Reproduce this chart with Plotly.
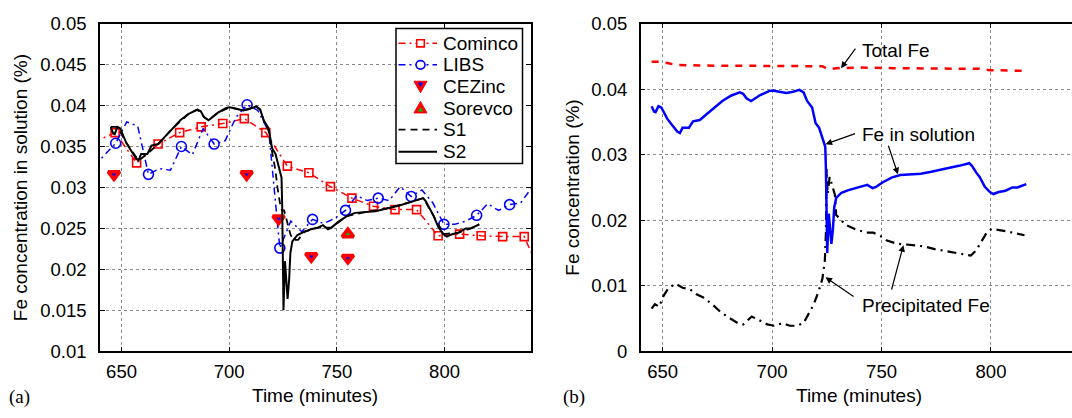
import plotly.graph_objects as go

# ---------------- panel (a): Fe concentration in solution ----------------
cominco_t = [637, 647, 657, 667, 677, 687, 697, 707, 717, 727, 737, 747, 757,
             767, 777, 787, 797, 807, 817, 827, 837, 847]
cominco_fe = [0.0355, 0.0367, 0.0330, 0.0353, 0.0367, 0.0374, 0.0378, 0.0384,
              0.0367, 0.0326, 0.0318, 0.0301, 0.0287, 0.0277, 0.0273, 0.0273,
              0.0241, 0.0243, 0.0241, 0.0240, 0.0240, 0.0180]

libs_t = [637.2, 642.2, 647.3, 652.4, 657.5, 662.5, 667.6, 672.7, 677.8, 682.9,
          687.9, 693.0, 698.1, 703.2, 708.3, 713.3, 718.4, 723.5, 728.6, 733.7,
          738.7, 743.8, 748.9, 754.0, 759.1, 764.1, 769.2, 774.3, 779.4, 784.5,
          789.5, 794.6, 799.7, 804.8, 809.9, 814.9, 820.0, 825.1, 830.2, 835.3,
          840.3]
libs_fe = [0.0326, 0.0340, 0.0354, 0.0380, 0.0375, 0.0316, 0.0323, 0.0321,
           0.0350, 0.0340, 0.0372, 0.0353, 0.0357, 0.0386, 0.0401, 0.0394,
           0.0368, 0.0226, 0.0259, 0.0246, 0.0261, 0.0256, 0.0262, 0.0272,
           0.0290, 0.0284, 0.0287, 0.0284, 0.0301, 0.0289, 0.0297, 0.0281,
           0.0255, 0.0255, 0.0259, 0.0266, 0.0280, 0.0272, 0.0279, 0.0281,
           0.0299]

cezinc_t = [646.5, 708.1, 722.9, 738.1, 755.1]
cezinc_fe = [0.0316, 0.0316, 0.0262, 0.0216, 0.0214]

sorevco_t = [755.1]
sorevco_fe = [0.0243]

s1_t = [645.0, 648.1, 652.1, 657.9, 662.0, 667.0, 673.3, 681.2, 685.2, 688.3,
        690.4, 694.6, 700.2, 706.5, 712.5, 714.4, 716.0, 718.3, 719.8, 721.4,
        722.4, 723.5, 724.5, 725.5, 726.5, 727.5, 728.5, 730.0, 732.0, 734.9,
        741.2, 747.5, 754.6, 763.2, 772.7, 785.3, 790.1, 794.8, 799.5, 806.6,
        812.1, 816.1]
s1_fe = [0.0374, 0.0374, 0.0355, 0.0333, 0.0341, 0.0353, 0.0371, 0.0390,
         0.0395, 0.0386, 0.0382, 0.0391, 0.0398, 0.0394, 0.0399, 0.0395,
         0.0382, 0.0369, 0.0345, 0.0322, 0.0300, 0.0282, 0.0272, 0.0272,
         0.0262, 0.0250, 0.0242, 0.0236, 0.0236, 0.0246, 0.0251, 0.0251,
         0.0265, 0.0270, 0.0274, 0.0283, 0.0287, 0.0266, 0.0243, 0.0245,
         0.0250, 0.0255]

# S2 estimate, also shown as "Fe in solution" in panel (b)
s2_t = [645.0, 646.1, 646.8, 648.1, 649.4, 652.1, 654.4, 656.8, 657.9, 659.1,
        660.7, 662.0, 663.9, 667.0, 670.2, 673.3, 677.3, 681.2, 685.2, 686.8,
        688.3, 690.4, 692.3, 694.6, 698.6, 700.2, 703.3, 706.5, 709.6, 712.5,
        714.4, 716.0, 718.3, 719.9, 721.5, 723.0, 724.3, 724.6, 724.9, 725.2,
        725.9, 726.5, 727.1, 727.8, 728.4, 729.3, 731.7, 734.9, 738.0, 741.2,
        743.5, 745.9, 747.5, 750.6, 754.6, 758.5, 763.2, 768.0, 772.7, 779.0,
        785.3, 790.1, 791.3, 793.2, 794.8, 797.2, 799.5, 801.1, 803.5, 806.6,
        809.8, 812.1, 814.5, 816.1]
s2_fe = [0.0374, 0.0366, 0.0365, 0.0374, 0.0372, 0.0355, 0.0345, 0.0335,
         0.0333, 0.0341, 0.0341, 0.0341, 0.0351, 0.0353, 0.0362, 0.0371,
         0.0382, 0.0390, 0.0395, 0.0393, 0.0386, 0.0382, 0.0386, 0.0391,
         0.0397, 0.0398, 0.0396, 0.0394, 0.0396, 0.0399, 0.0395, 0.0382,
         0.0372, 0.0348, 0.0341, 0.0326, 0.0312, 0.0278, 0.0229, 0.0150,
         0.0210, 0.0181, 0.0164, 0.0186, 0.0220, 0.0234, 0.0242, 0.0246,
         0.0249, 0.0251, 0.0254, 0.0249, 0.0251, 0.0258, 0.0265, 0.0269,
         0.0270, 0.0271, 0.0274, 0.0278, 0.0283, 0.0287, 0.0283, 0.0273,
         0.0266, 0.0251, 0.0243, 0.0240, 0.0243, 0.0245, 0.0250, 0.0250,
         0.0253, 0.0255]

# ---------------- panel (b): Fe balance ----------------
total_t = [645.0, 648.4, 652.1, 656.0, 668.6, 684.4, 700.2, 716.0, 723.0, 724.6,
           727.0, 729.3, 739.6, 755.4, 771.2, 790.1, 794.8, 799.5, 807.4, 815.3]
total_fe = [0.0442, 0.0442, 0.0440, 0.0437, 0.0436, 0.0436, 0.0436, 0.0436,
            0.0435, 0.0432, 0.0431, 0.0432, 0.0433, 0.0432, 0.0432, 0.0432,
            0.0431, 0.0429, 0.0429, 0.0428]

prec_t = [645.0, 646.5, 648.4, 650.5, 652.8, 656.0, 659.1, 662.3, 665.5, 668.6,
          672.6, 676.5, 680.4, 684.4, 686.8, 690.7, 693.8, 697.8, 700.9, 704.9,
          708.0, 711.2, 714.4, 716.7, 719.1, 721.5, 723.0, 724.1, 724.6, 724.9,
          725.4, 726.3, 727.1, 727.9, 728.7, 729.3, 733.6, 738.3, 743.1, 746.2,
          749.4, 752.5, 757.3, 761.3, 764.8, 769.6, 774.3, 779.0, 785.3, 790.8,
          793.2, 795.6, 798.0, 800.3, 804.3, 807.4, 811.4, 815.3]
prec_fe = [0.0065, 0.0072, 0.0068, 0.0085, 0.0097, 0.0103, 0.0097, 0.0095,
           0.0087, 0.0082, 0.0072, 0.0060, 0.0051, 0.0043, 0.0041, 0.0053,
           0.0048, 0.0041, 0.0039, 0.0043, 0.0039, 0.0039, 0.0043, 0.0058,
           0.0072, 0.0094, 0.0111, 0.0138, 0.0181, 0.0278, 0.0240, 0.0266,
           0.0258, 0.0249, 0.0239, 0.0208, 0.0193, 0.0186, 0.0181, 0.0181,
           0.0176, 0.0169, 0.0164, 0.0163, 0.0162, 0.0160, 0.0156, 0.0153,
           0.0150, 0.0146, 0.0154, 0.0167, 0.0181, 0.0187, 0.0185, 0.0183,
           0.0180, 0.0177]

# tick labels
x_ticks = [650, 700, 750, 800]
ya_ticks = [0.01, 0.015, 0.02, 0.025, 0.03, 0.035, 0.04, 0.045, 0.05]
ya_text = ["0.01", "0.015", "0.02", "0.025", "0.03", "0.035", "0.04", "0.045", "0.05"]
yb_ticks = [0, 0.01, 0.02, 0.03, 0.04, 0.05]
yb_text = ["0", "0.01", "0.02", "0.03", "0.04", "0.05"]

legend_names = ["Cominco", "LIBS", "CEZinc", "Sorevco", "S1", "S2"]

W, H = 1072, 418
FONT = "Liberation Sans"
RED, BLUE, GREEN = "#ff0000", "#0000ff", "#00c000"
DASHDOT = "7px,4px,2px,4px"
TICK_FS, TEXT_FS = 18.5, 19

fig = go.Figure()

# --- panel (a) ---
fig.add_trace(go.Scatter(
    x=cominco_t, y=cominco_fe, mode="lines+markers", name="Cominco",
    line=dict(color=RED, width=1.5, dash=DASHDOT),
    marker=dict(symbol="square-open", size=8, color=RED, line=dict(width=1.6)),
    xaxis="x", yaxis="y"))
# LIBS: dense line with a marker on every third sample
fig.add_trace(go.Scatter(
    x=libs_t, y=libs_fe, mode="lines", name="LIBS",
    line=dict(color=BLUE, width=1.5, dash=DASHDOT),
    xaxis="x", yaxis="y"))
fig.add_trace(go.Scatter(
    x=libs_t[2::3], y=libs_fe[2::3], mode="markers", name="LIBS",
    marker=dict(symbol="circle-open", size=10, color=BLUE, line=dict(width=1.6)),
    xaxis="x", yaxis="y"))
fig.add_trace(go.Scatter(
    x=cezinc_t, y=cezinc_fe, mode="markers", name="CEZinc",
    marker=dict(symbol="triangle-down", size=10, color=BLUE,
                line=dict(color=RED, width=3.5)),
    xaxis="x", yaxis="y"))
fig.add_trace(go.Scatter(
    x=sorevco_t, y=sorevco_fe, mode="markers", name="Sorevco",
    marker=dict(symbol="triangle-up", size=10, color=GREEN,
                line=dict(color=RED, width=3.5)),
    xaxis="x", yaxis="y"))
fig.add_trace(go.Scatter(
    x=s1_t, y=s1_fe, mode="lines", name="S1",
    line=dict(color="black", width=1.8, dash="7px,5px"),
    xaxis="x", yaxis="y"))
fig.add_trace(go.Scatter(
    x=s2_t, y=s2_fe, mode="lines", name="S2",
    line=dict(color="black", width=2),
    xaxis="x", yaxis="y"))

# --- panel (b) ---
fig.add_trace(go.Scatter(
    x=total_t, y=total_fe, mode="lines", name="Total Fe",
    line=dict(color=RED, width=2.5, dash="7px,7px"),
    xaxis="x2", yaxis="y2"))
fig.add_trace(go.Scatter(
    x=prec_t, y=prec_fe, mode="lines", name="Precipitated Fe",
    line=dict(color="black", width=2.2, dash="9px,5px,2px,5px"),
    xaxis="x2", yaxis="y2"))
fig.add_trace(go.Scatter(
    x=s2_t, y=s2_fe, mode="lines", name="Fe in solution",
    line=dict(color=BLUE, width=2.5),
    xaxis="x2", yaxis="y2"))

axis_common = dict(
    showline=True, linecolor="black", linewidth=1.5,
    ticks="inside", ticklen=5, tickwidth=1, tickcolor="black",
    showgrid=True, gridcolor="#8a8a8a", gridwidth=1, griddash="dot",
    zeroline=False, tickfont=dict(family=FONT, size=TICK_FS, color="black"),
)

y_dom = [1 - 358.3 / H, 1 - 13.3 / H]
fig.update_layout(
    width=W, height=H,
    margin=dict(l=0, r=0, t=0, b=0),
    paper_bgcolor="white", plot_bgcolor="white",
    showlegend=False,
    font=dict(family=FONT, size=TEXT_FS, color="black"),
    xaxis=dict(axis_common, domain=[100 / W, 530.7 / W], range=[640, 840],
               tickvals=x_ticks, mirror="ticks", anchor="y", ticklabelstandoff=3),
    yaxis=dict(axis_common, domain=y_dom, range=[0.01, 0.05],
               tickvals=ya_ticks, ticktext=ya_text, mirror="ticks", anchor="x",
               ticklabelstandoff=8),
    xaxis2=dict(axis_common, domain=[640.7 / W, 1.0], range=[640, 837],
                tickvals=x_ticks, mirror="ticks", anchor="y2", ticklabelstandoff=3),
    yaxis2=dict(axis_common, domain=y_dom, range=[0, 0.05],
                tickvals=yb_ticks, ticktext=yb_text, mirror=False, anchor="x2",
                ticklabelstandoff=8),
)

def px(x):
    return x / W

def py(y):
    return 1 - y / H

# ---- legend box for panel (a), laid out in pixels ----
fig.add_shape(type="rect", xref="paper", yref="paper",
              x0=px(396), x1=px(522.5), y0=py(160.5), y1=py(18.5),
              line=dict(color="black", width=1.5), fillcolor="white", layer="above")

row_y = [34, 56.7, 79, 102.3, 125, 148.3]
sample_x0, sample_x1, mark_x, text_x = 398.5, 437, 420.5, 441

def sample_line(y, color, dash, width):
    fig.add_shape(type="line", xref="paper", yref="paper",
                  x0=px(sample_x0), x1=px(sample_x1), y0=py(y), y1=py(y),
                  line=dict(color=color, width=width, dash=dash), layer="above")

def tri_path(cx, cy, half_w, h, down):
    if down:
        pts = [(cx - half_w, cy - h / 3), (cx + half_w, cy - h / 3), (cx, cy + 2 * h / 3)]
    else:
        pts = [(cx - half_w, cy + h / 3), (cx + half_w, cy + h / 3), (cx, cy - 2 * h / 3)]
    return "M " + " L ".join(f"{px(a):.5f},{py(b):.5f}" for a, b in pts) + " Z"

# Cominco
sample_line(row_y[0], RED, DASHDOT, 1.5)
fig.add_shape(type="rect", xref="paper", yref="paper",
              x0=px(mark_x - 3.8), x1=px(mark_x + 3.8),
              y0=py(row_y[0] + 3.8), y1=py(row_y[0] - 3.8),
              line=dict(color=RED, width=1.6), fillcolor="white", layer="above")
# LIBS
sample_line(row_y[1], BLUE, DASHDOT, 1.5)
fig.add_shape(type="circle", xref="paper", yref="paper",
              x0=px(mark_x - 4.5), x1=px(mark_x + 4.5),
              y0=py(row_y[1] + 4.5), y1=py(row_y[1] - 4.5),
              line=dict(color=BLUE, width=1.6), fillcolor="white", layer="above")
# CEZinc
fig.add_shape(type="path", xref="paper", yref="paper",
              path=tri_path(mark_x, row_y[2] - 1, 6.5, 12, True),
              line=dict(color=RED, width=1), fillcolor=RED, layer="above")
fig.add_shape(type="path", xref="paper", yref="paper",
              path=tri_path(mark_x, row_y[2] - 2, 2.2, 4, True),
              line=dict(color=BLUE, width=0.5), fillcolor=BLUE, layer="above")
# Sorevco
fig.add_shape(type="path", xref="paper", yref="paper",
              path=tri_path(mark_x, row_y[3] + 1, 6.5, 12, False),
              line=dict(color=RED, width=1), fillcolor=RED, layer="above")
fig.add_shape(type="path", xref="paper", yref="paper",
              path=tri_path(mark_x, row_y[3] + 2, 2.2, 4, False),
              line=dict(color=GREEN, width=0.5), fillcolor=GREEN, layer="above")
# S1 / S2
sample_line(row_y[4], "black", "7px,5px", 1.8)
sample_line(row_y[5], "black", "solid", 2)

for name, y in zip(legend_names, row_y):
    fig.add_annotation(text=name, x=px(text_x), y=py(y), xref="paper", yref="paper",
                       showarrow=False, xanchor="left", yanchor="middle",
                       font=dict(family=FONT, size=TEXT_FS, color="black"))

# ---- axis titles and panel labels ----
def paper_text(text, x, y, size=TEXT_FS, family=FONT, angle=0):
    fig.add_annotation(text=text, x=px(x), y=py(y), xref="paper", yref="paper",
                       showarrow=False, textangle=angle,
                       font=dict(family=family, size=size, color="black"),
                       xanchor="center", yanchor="middle")

paper_text("Time (minutes)", 315.4, 405)
paper_text("Time (minutes)", 859, 405)
paper_text("Fe concentration in solution (%)", 20.5, 186, angle=-90)
paper_text("Fe concentration (%)", 573, 186, angle=-90)
paper_text("(a)", 19.5, 406.5, size=19, family="Liberation Serif")
paper_text("(b)", 574, 406, size=19, family="Liberation Serif")

# ---- labelled arrows in panel (b) ----
def arrow(tail, head):
    fig.add_annotation(x=head[0], y=head[1], ax=tail[0], ay=tail[1],
                       xref="x2", yref="y2", axref="x2", ayref="y2",
                       text="", showarrow=True, arrowhead=2, arrowsize=1.1,
                       arrowwidth=1.2, arrowcolor="black")

def label(text, x, y):
    fig.add_annotation(x=x, y=y, xref="x2", yref="y2", text=text, showarrow=False,
                       xanchor="left", yanchor="middle",
                       font=dict(family=FONT, size=TEXT_FS, color="black"))

label("Total Fe", 740.3, 0.0459)
arrow((738.6, 0.0464), (731.5, 0.0432))
label("Fe in solution", 740.3, 0.0331)
arrow((738.6, 0.0333), (724.4, 0.0316))
arrow((752.9, 0.0316), (757.5, 0.0270))
label("Precipitated Fe", 740.3, 0.0070)
arrow((737.9, 0.0082), (724.4, 0.0113))
arrow((754.4, 0.0092), (760.0, 0.0162))

fig.write_html("out.html")
